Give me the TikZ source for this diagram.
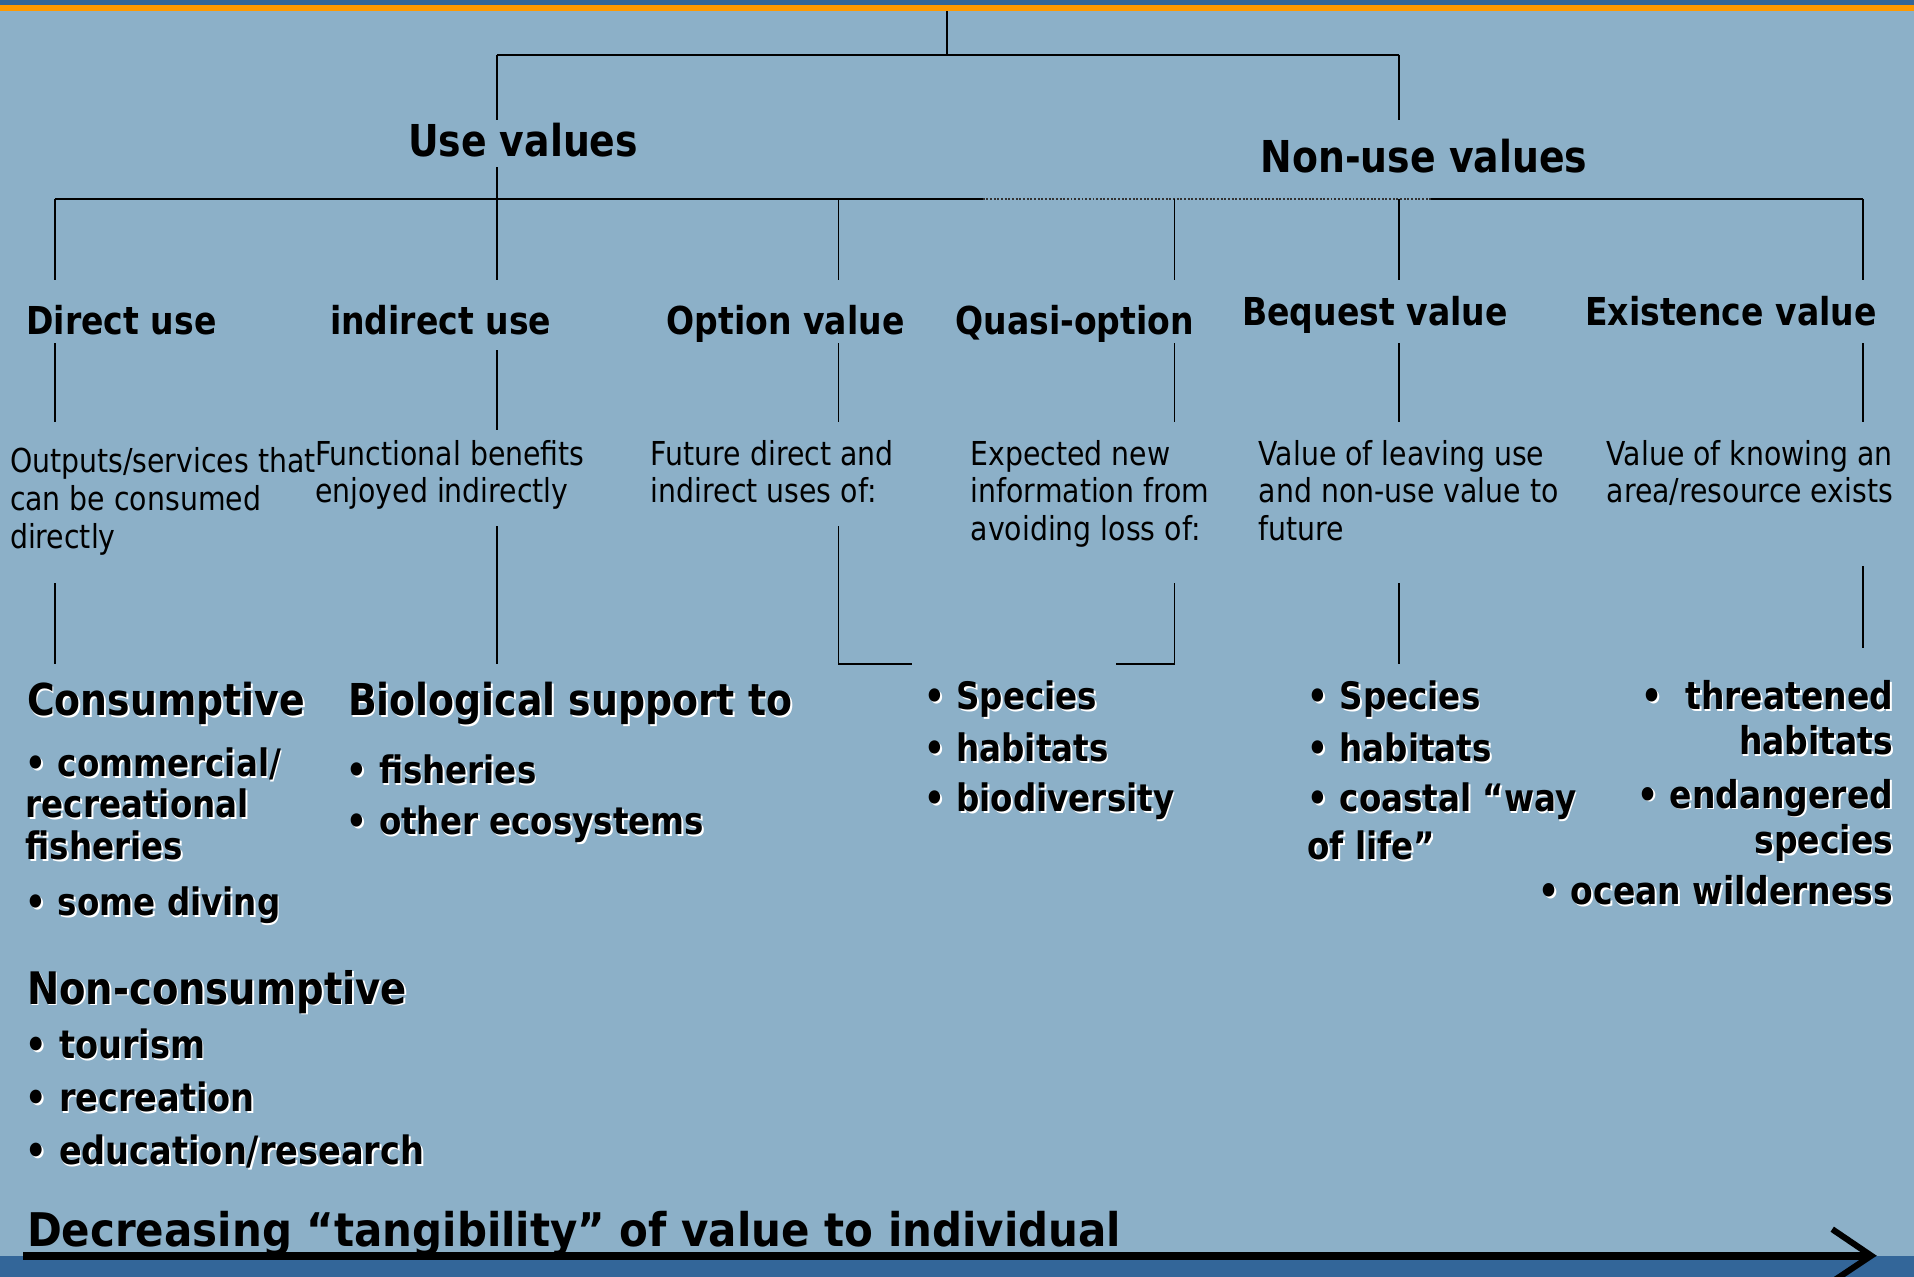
\documentclass[tikz,border=0pt]{standalone}
\usepackage{fontspec}
\setmainfont{DejaVu Sans}[FakeStretch=0.86]
\newfontfamily\widefont{DejaVu Sans}[FakeStretch=0.905]
\definecolor{bgblue}{RGB}{140,176,200}
\definecolor{bandblue}{RGB}{51,102,153}
\definecolor{orng}{RGB}{255,153,0}
\newcommand\shd[1]{\leavevmode\rlap{\kern1.5pt\raisebox{-1.5pt}{\textcolor{white}{#1}}}#1}
\tikzset{
  hdA/.style={font=\fontsize{36}{43}\selectfont\bfseries, anchor=base, inner sep=0pt},
  hdB/.style={font=\fontsize{31.5}{38}\selectfont\bfseries, anchor=base, inner sep=0pt},
  desc/.style={font=\fontsize{27}{31}\selectfont, anchor=base west, align=left, inner sep=0pt},
  subhd/.style={font=\fontsize{36}{42}\selectfont\bfseries, anchor=base west, inner sep=0pt},
  blist/.style={font=\fontsize{31}{34}\selectfont\bfseries, anchor=base west, align=left, inner sep=0pt},
  rlist/.style={font=\fontsize{31.4}{34}\selectfont\bfseries, anchor=base east, align=right, inner sep=0pt},
  link/.style={line width=1.25pt, black},
  bar/.style={line width=2.2pt, black},
}
\begin{document}
\begin{tikzpicture}[x=1pt,y=-1pt]
\useasboundingbox (0,0) rectangle (1568,1046);
% background and bands
\fill[bgblue] (0,0) rectangle (1568,1046);
\fill[bandblue] (0,0) rectangle (1568,4.5);
\fill[orng] (0,4.5) rectangle (1568,9);
\fill[bandblue] (0,1029) rectangle (1568,1046);

% ---------- coordinates ----------
\coordinate (root0) at (776,9);
\coordinate (root1) at (776,45);
\coordinate (h1L) at (407,45);
\coordinate (h1R) at (1146,45);
\coordinate (uvA) at (407,98);
\coordinate (nuA) at (1146,98);
\coordinate (uvB) at (407,137);
\coordinate (uvC) at (407,229);
\coordinate (h2a) at (45,163);
\coordinate (h2b) at (805,163);
\coordinate (h2c) at (1172,163);
\coordinate (h2d) at (1526,163);
% drops from second bar
\coordinate (dA0) at (45,163);   \coordinate (dA1) at (45,229);
\coordinate (dC0) at (687,163);  \coordinate (dC1) at (687,229);
\coordinate (dD0) at (962,163);  \coordinate (dD1) at (962,229);
\coordinate (dE0) at (1146,163); \coordinate (dE1) at (1146,229);
\coordinate (dF0) at (1526,163); \coordinate (dF1) at (1526,229);
% below headers
\coordinate (eA0) at (45,281);   \coordinate (eA1) at (45,346);
\coordinate (eB0) at (407,287);  \coordinate (eB1) at (407,352);
\coordinate (eC0) at (687,281);  \coordinate (eC1) at (687,346);
\coordinate (eD0) at (962,281);  \coordinate (eD1) at (962,346);
\coordinate (eE0) at (1146,281); \coordinate (eE1) at (1146,346);
\coordinate (eF0) at (1526,281); \coordinate (eF1) at (1526,346);
% below descriptions
\coordinate (fA0) at (45,478);   \coordinate (fA1) at (45,544);
\coordinate (fB0) at (407,431);  \coordinate (fB1) at (407,544);
\coordinate (fC0) at (687,431);  \coordinate (fC1) at (687,544); \coordinate (fC2) at (747,544);
\coordinate (fD0) at (962,478);  \coordinate (fD1) at (962,544); \coordinate (fD2) at (914,544);
\coordinate (fE0) at (1146,478); \coordinate (fE1) at (1146,544);
\coordinate (fF0) at (1526,464); \coordinate (fF1) at (1526,531);
% arrow
\coordinate (arS) at (19,1028.7);
\coordinate (arE) at (1530,1028.7);
\coordinate (arT) at (1501,1007);
\coordinate (arP) at (1533,1028.7);
\coordinate (arB) at (1501,1050);

% ---------- connectors ----------
\draw[link] (root0) -- (root1);
\draw[bar] (h1L) -- (h1R);
\draw[link] (h1L) -- (uvA);
\draw[link] (h1R) -- (nuA);
\draw[link] (uvB) -- (uvC);
\draw[bar] (h2a) -- (h2b);
\draw[line width=1.8pt, black!80, dash pattern=on 1.6pt off 1.4pt] (h2b) -- (h2c);
\draw[bar] (h2c) -- (h2d);
\foreach \n in {A,C,D,E,F} {\draw[link] (d\n0) -- (d\n1);}
\foreach \n in {A,B,C,D,E,F} {\draw[link] (e\n0) -- (e\n1);}
\draw[link] (fA0) -- (fA1);
\draw[link] (fB0) -- (fB1);
\draw[link] (fC0) -- (fC1) -- (fC2);
\draw[link] (fD0) -- (fD1) -- (fD2);
\draw[link] (fE0) -- (fE1);
\draw[link] (fF0) -- (fF1);

% ---------- level 1 ----------
\node[hdA] (use) at (428.5,128) {Use values};
\node[hdA] (nonuse) at (1166.5,141) {Non-use values};

% ---------- level 2 ----------
\node[hdB] (direct) at (99.5,274) {Direct use};
\node[hdB] (indirect) at (361,274) {indirect use};
\node[hdB] (option) at (643.5,274) {Option value};
\node[hdB] (quasi) at (880.5,274) {Quasi-option};
\node[hdB] (bequest) at (1126.5,267) {Bequest value};
\node[hdB] (exist) at (1418,267) {Existence value};

% ---------- descriptions (anchor = baseline of last line) ----------
\node[desc] (dDirect) at (8,449) {Outputs/services that\\can be consumed\\directly};
\node[desc] (dIndirect) at (258,412) {Functional benefits\\enjoyed indirectly};
\node[desc] (dOption) at (533,412) {Future direct and\\indirect uses of:};
\node[desc] (dQuasi) at (795,443) {Expected new\\information from\\avoiding loss of:};
\node[desc] (dBequest) at (1031,443) {Value of leaving use\\and non-use value to\\future};
\node[desc] (dExist) at (1316,412) {Value of knowing an\\area/resource exists};

% ---------- lower lists (anchor = baseline of last line) ----------
\node[subhd] (cons) at (22,586) {\shd{Consumptive}};
\node[blist] (consL) at (21,750) {\shd{• commercial/}\\\shd{recreational}\\\shd{fisheries}\\[12pt]\shd{• some diving}};
\node[subhd] (bio) at (285,586) {\shd{Biological support to}};
\node[blist] (bioL) at (284,684) {\shd{• fisheries}\\[8.4pt]\shd{• other ecosystems}};
\node[blist] (optL) at (757,665) {\shd{• Species}\\[8.4pt]\shd{• habitats}\\[7pt]\shd{• biodiversity}};
\node[blist] (beqL) at (1071,704.5) {\shd{• Species}\\[8.4pt]\shd{• habitats}\\[7pt]\shd{• coastal “way}\\[5.5pt]\shd{of life”}};
\node[rlist] (exL) at (1551,741) {\shd{•\ \ threatened}\\[3pt]\shd{habitats}\\[9.5pt]\shd{• endangered}\\[3pt]\shd{species}\\[8pt]\shd{• ocean wilderness}};
\node[subhd, font=\fontsize{36.7}{42}\selectfont\bfseries] (noncons) at (22,822.5) {\shd{Non-consumptive}};
\node[blist, font=\fontsize{32}{34}\selectfont\bfseries] (nonconsL) at (21,954) {\shd{• tourism}\\[9.5pt]\shd{• recreation}\\[9.5pt]\shd{• education/research}};

% ---------- bottom arrow ----------
\node[font=\widefont\fontsize{38}{43}\selectfont\bfseries, anchor=base west, inner sep=0pt] (tang) at (22,1021) {Decreasing “tangibility” of value to individual};
\draw[line width=6.8pt] (arS) -- (arE);
\draw[line width=5pt, miter limit=10] (arT) -- (arP) -- (arB);
\end{tikzpicture}
\end{document}
